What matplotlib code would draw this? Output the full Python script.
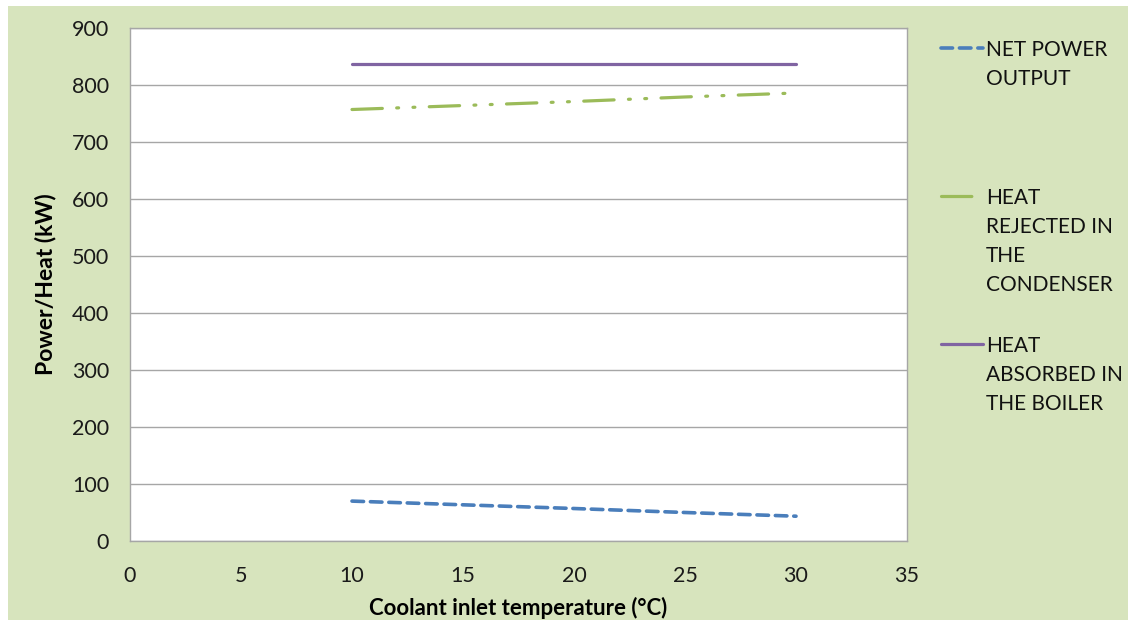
import matplotlib
matplotlib.use("Agg")
import matplotlib.pyplot as plt
from matplotlib.lines import Line2D
from matplotlib.patches import Rectangle

# Data
temperature = [10, 15, 20, 25, 30]
net_power = [70, 63.5, 57, 50, 43.5]
heat_rejected = [757, 764, 771, 779, 786]
heat_absorbed = [837, 837, 837, 837, 837]

labels = ["NET POWER\nOUTPUT",
          "HEAT\nREJECTED IN\nTHE\nCONDENSER",
          "HEAT\nABSORBED IN\nTHE BOILER"]
x_ticks = [0, 5, 10, 15, 20, 25, 30, 35]
y_ticks = [0, 100, 200, 300, 400, 500, 600, 700, 800, 900]

plt.rcParams['font.family'] = ['Lato', 'DejaVu Sans']

W, H = 1136, 626
fig = plt.figure(figsize=(W / 100, H / 100), dpi=100, facecolor='white')
fig.patches.append(Rectangle((8 / W, 6 / H), 1120 / W, 614 / H, transform=fig.transFigure,
                             facecolor='#D7E4BD', edgecolor='none', zorder=-10))

ax = fig.add_axes([130 / W, 1 - 541 / H, 777 / W, 513 / H])
ax.set_facecolor('white')

styles = [
    dict(color='#4A7EBB', lw=2.6, dashes=(3.2, 1.9), dash_capstyle='round'),
    dict(color='#9BBB59', lw=2.3, dashes=(9.5, 4.5, 0.6, 4.5, 0.6, 4.5), dash_capstyle='round'),
    dict(color='#8064A2', lw=2.3, solid_capstyle='round'),
]
series = [net_power, heat_rejected, heat_absorbed]
for vals, st in zip(series, styles):
    ax.plot(temperature, vals, **st)

ax.set_xlim(0, 35)
ax.set_ylim(0, 900)
ax.set_xticks(x_ticks)
ax.set_yticks(y_ticks)
ax.yaxis.grid(True, color='#A6A6A6', lw=1.0)
ax.set_axisbelow(True)
for s in ax.spines.values():
    s.set_color('#A6A6A6')
    s.set_linewidth(1.0)
ax.tick_params(axis='both', length=0, labelsize=15.5, colors='#1a1a1a')
ax.tick_params(axis='x', pad=18)
ax.tick_params(axis='y', pad=15)
ax.set_xlabel('Coolant inlet temperature (°C)', fontsize=16, fontweight='bold', labelpad=8)
ax.set_ylabel('Power/Heat (kW)', fontsize=16.5, fontweight='bold', labelpad=11)

# Legend (manual, handle aligned with first text line)
entry_y = [48, 196, 344]
for lab, st, yc in zip(labels, styles, entry_y):
    yf = 1 - yc / H
    ln = Line2D([941 / W, 983 / W], [yf, yf], transform=fig.transFigure, **st)
    fig.lines.append(ln)
    fig.text(986 / W, yf + 8 / H, lab, ha='left', va='top', fontsize=15,
             color='#111111', linespacing=1.56)

fig.savefig('out.png', dpi=100, facecolor='white')
